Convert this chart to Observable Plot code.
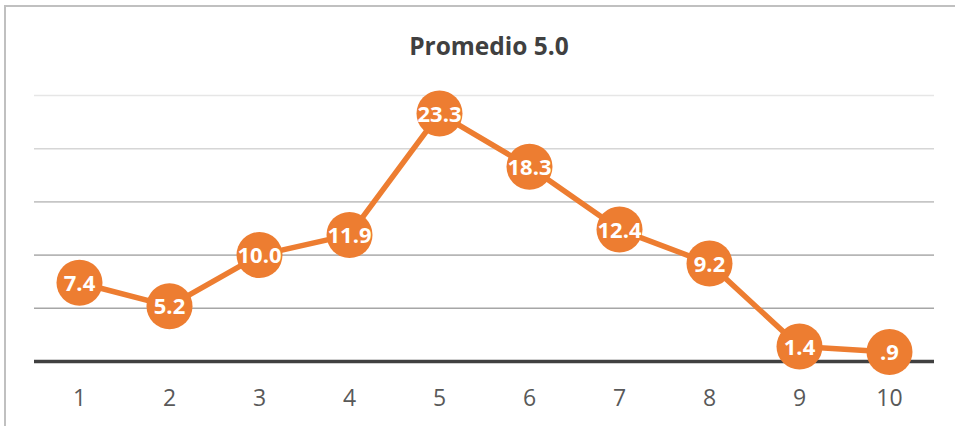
<!DOCTYPE html>
<html>
<head>
<meta charset="utf-8">
<script src="https://cdn.jsdelivr.net/npm/d3@7"></script>
<script src="https://cdn.jsdelivr.net/npm/@observablehq/plot@0.6"></script>
<style>
  html, body { margin: 0; padding: 0; background: #fff; }
  #wrap { position: relative; width: 955px; height: 426px; overflow: hidden; font-family: "Open Sans", sans-serif; }
  #frame { position: absolute; left: 4px; top: 5px; width: 1000px; height: 500px;
           border-top: 2px solid #c0c0c0; border-left: 2px solid #c0c0c0; box-sizing: border-box; }
  #title { position: absolute; left: 0; top: 0; width: 978px; height: 80px; line-height: 92px;
           text-align: center; font-weight: 700; font-size: 24.5px; color: #404040; }
  #chart { position: absolute; left: 0; top: 80px; }
  #chart svg { display: block; }
</style>
</head>
<body>
<div id="wrap">
  <div id="frame"></div>
  <div id="title">Promedio 5.0</div>
  <div id="chart"></div>
</div>
<script>
const categories = [1, 2, 3, 4, 5, 6, 7, 8, 9, 10];
const values = [7.4, 5.2, 10.0, 11.9, 23.3, 18.3, 12.4, 9.2, 1.4, 0.9];
const gridValues = [5, 10, 15, 20, 25];

const data = categories.map((c, i) => ({cat: c, value: values[i]}));
const fmt = v => d3.format(".1f")(v).replace(/^0\./, ".");
const gridColor = d3.interpolateRgb("#a6a6a6", "#e6e6e6");

const orange = "#ED7D31";

const chart = Plot.plot({
  width: 955,
  height: 346,
  marginTop: 15,
  marginBottom: 65,
  marginLeft: 34,
  marginRight: 21,
  style: {fontFamily: "'Open Sans', sans-serif", background: "transparent"},
  x: {type: "point", domain: categories, padding: 0.5, label: null},
  y: {domain: [0, 25], axis: null},
  marks: [
    Plot.ruleY(gridValues, {stroke: d => gridColor((d - 5) / 20), strokeWidth: 1.6}),
    Plot.ruleY([0], {stroke: "#404040", strokeWidth: 3.5}),
    Plot.axisX({tickSize: 0, tickPadding: 28, fontSize: 23, fill: "#595959", label: null}),
    Plot.line(data, {x: "cat", y: "value", stroke: orange, strokeWidth: 5.5}),
    Plot.dot(data, {x: "cat", y: "value", r: 23, fill: orange, stroke: "none"}),
    Plot.text(data, {x: "cat", y: "value", text: d => fmt(d.value), fill: "white",
      fontWeight: 700, fontSize: 22, dy: 1})
  ]
});
document.getElementById("chart").appendChild(chart);
</script>
</body>
</html>
